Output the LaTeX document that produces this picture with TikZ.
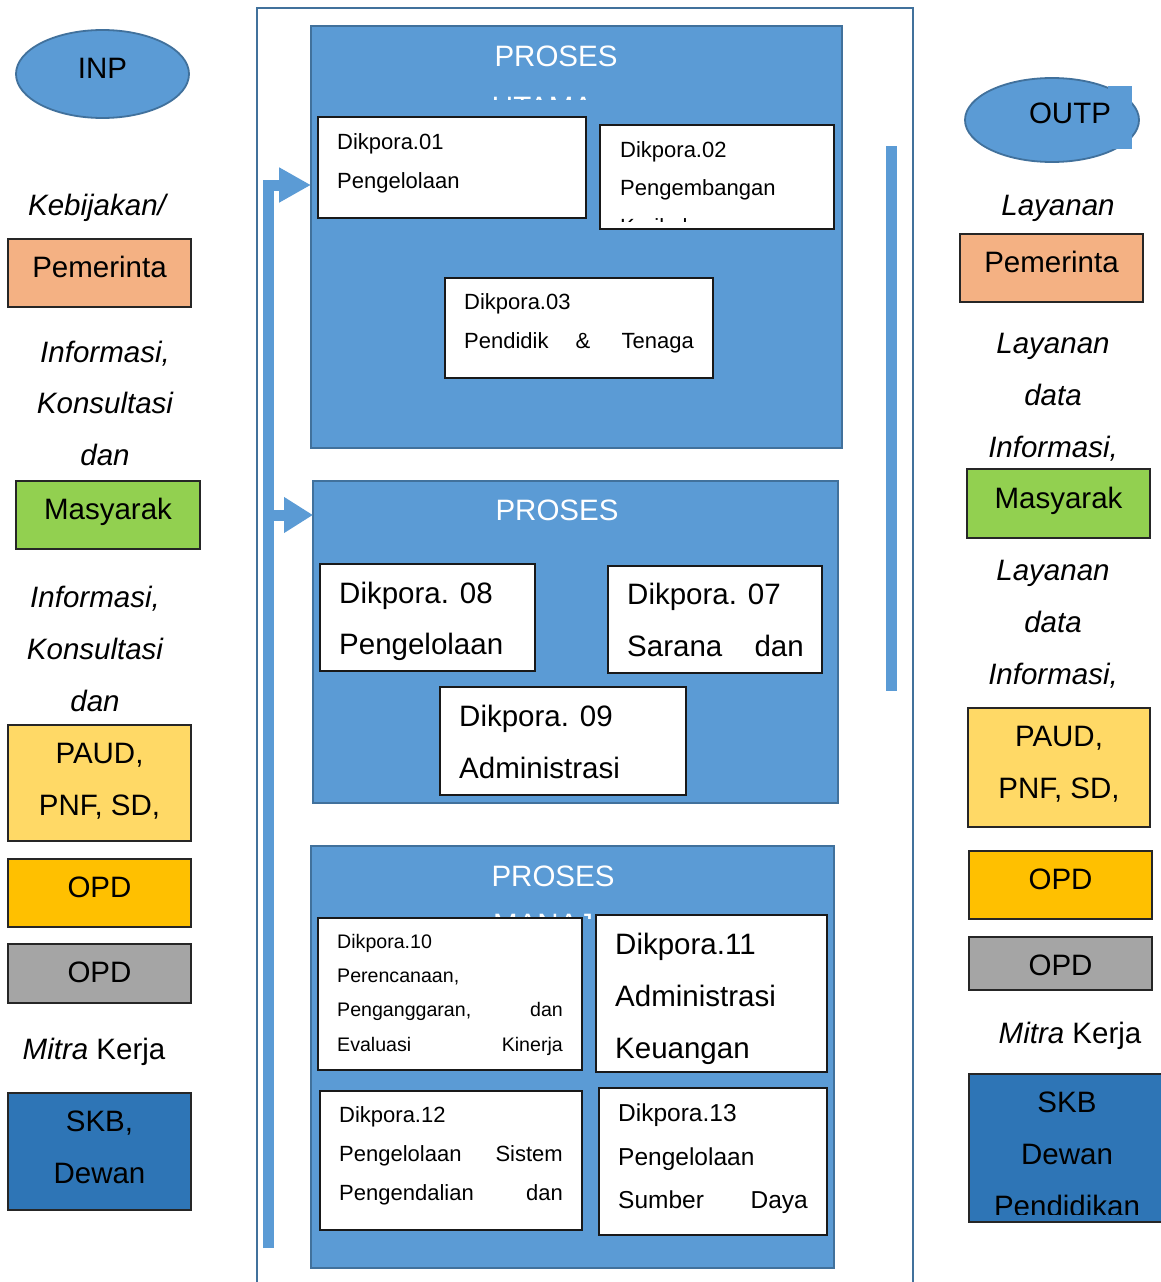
\documentclass[tikz,border=0pt]{standalone}
\usepackage{fontspec}
\setmainfont{Liberation Sans}
\usetikzlibrary{arrows.meta,shapes.geometric}
\definecolor{pblue}{HTML}{5B9BD5}
\definecolor{pedge}{HTML}{41719C}
\definecolor{cpem}{HTML}{F4B183}
\definecolor{cmas}{HTML}{92D050}
\definecolor{cpaud}{HTML}{FFD966}
\definecolor{copd}{HTML}{FFC000}
\definecolor{cgray}{HTML}{A5A5A5}
\definecolor{cskb}{HTML}{2E75B6}
\newcommand\fsA{\fontsize{29.5}{35}\selectfont}
\newcommand\fsB{\fontsize{22}{26}\selectfont}
\newcommand\fsC{\fontsize{19.6}{23}\selectfont}
\newcommand\fsD{\fontsize{24.5}{29}\selectfont}
\tikzset{
  bx/.style={draw=black!85, line width=1.3pt, inner sep=0pt, outer sep=0pt, anchor=north west},
  proc/.style={fill=pblue, draw=pedge, line width=2.5pt, inner sep=0pt, outer sep=0pt, anchor=north west},
  wbox/.style={fill=white, draw=black!90, line width=1.3pt, inner sep=0pt, outer sep=0pt, anchor=north west},
  ct/.style={inner sep=0pt, anchor=base, font=\fsA},
  lt/.style={inner sep=0pt, anchor=base west},
  rt/.style={inner sep=0pt, anchor=base east},
  ell/.style={ellipse, fill=pblue, draw=pedge, line width=1.8pt},
  flow/.style={line width=11pt, draw=pblue, line join=miter},
}
\begin{document}
\begin{tikzpicture}[x=1pt,y=-1pt]
\useasboundingbox (0,0) rectangle (1161,1282);
\fill[white] (0,0) rectangle (1161,1282);

% outer frame
\draw[pedge, line width=2pt] (257,1290) -- (257,8) -- (913,8) -- (913,1290);

% ===== left column =====
\node[ell, minimum width=173pt, minimum height=88pt] (inp) at (102.5,74) {};
\node[ct] (tinp) at (102.5,78) {INP};
\node[ct, font=\fsA\itshape] (lk1) at (97,215) {Kebijakan/};
\node[bx, fill=cpem, minimum width=183pt, minimum height=68pt] (lpem) at (8,239) {};
\node[ct] (tlpem) at (99.5,277) {Pemerinta};
\node[ct, font=\fsA\itshape] (li1) at (105,362) {Informasi,};
\node[ct, font=\fsA\itshape] (li2) at (105,413) {Konsultasi};
\node[ct, font=\fsA\itshape] (li3) at (105,465) {dan};
\node[bx, fill=cmas, minimum width=184pt, minimum height=68pt] (lmas) at (16,481) {};
\node[ct] (tlmas) at (108,519) {Masyarak};
\node[ct, font=\fsA\itshape] (li4) at (95,607) {Informasi,};
\node[ct, font=\fsA\itshape] (li5) at (95,659) {Konsultasi};
\node[ct, font=\fsA\itshape] (li6) at (95,711) {dan};
\node[bx, fill=cpaud, minimum width=183pt, minimum height=116pt] (lpaud) at (8,725) {};
\node[ct] (tlpaud1) at (99.5,763) {PAUD,};
\node[ct] (tlpaud2) at (99.5,815) {PNF, SD,};
\node[bx, fill=copd, minimum width=183pt, minimum height=68pt] (lopd) at (8,859) {};
\node[ct] (tlopd) at (99.5,897) {OPD};
\node[bx, fill=cgray, minimum width=183pt, minimum height=59pt] (lopdg) at (8,944) {};
\node[ct] (tlopdg) at (99.5,982) {OPD};
\node[ct] (lmitra) at (94,1059) {\textit{Mitra} Kerja};
\node[bx, fill=cskb, minimum width=183pt, minimum height=117pt] (lskb) at (8,1093) {};
\node[ct] (tlskb1) at (99.5,1131) {SKB,};
\node[ct] (tlskb2) at (99.5,1183) {Dewan};

% ===== right column =====
\node[ell, minimum width=174pt, minimum height=84pt] (outp) at (1052,120) {};
\fill[pblue] (1108,86) rectangle (1132,149);
\node[ct] (toutp) at (1070,123) {OUTP};
\node[ct, font=\fsA\itshape] (rl1) at (1058,215) {Layanan};
\node[bx, fill=cpem, minimum width=183pt, minimum height=68pt] (rpem) at (960,234) {};
\node[ct] (trpem) at (1051.5,272.5) {Pemerinta};
\node[ct, font=\fsA\itshape] (rl2) at (1053,353.5) {Layanan};
\node[ct, font=\fsA\itshape] (rl3) at (1053,405.5) {data};
\node[ct, font=\fsA\itshape] (rl4) at (1053,457.5) {Informasi,};
\node[bx, fill=cmas, minimum width=183pt, minimum height=69pt] (rmas) at (967,469) {};
\node[ct] (trmas) at (1058.5,508.5) {Masyarak};
\node[ct, font=\fsA\itshape] (rl5) at (1053,580.5) {Layanan};
\node[ct, font=\fsA\itshape] (rl6) at (1053,632.5) {data};
\node[ct, font=\fsA\itshape] (rl7) at (1053,684.5) {Informasi,};
\node[bx, fill=cpaud, minimum width=182pt, minimum height=119pt] (rpaud) at (968,708) {};
\node[ct] (trpaud1) at (1059,746.5) {PAUD,};
\node[ct] (trpaud2) at (1059,798.5) {PNF, SD,};
\node[bx, fill=copd, minimum width=183pt, minimum height=68pt] (ropd) at (969,851) {};
\node[ct] (tropd) at (1060.5,889.5) {OPD};
\node[bx, fill=cgray, minimum width=183pt, minimum height=53pt] (ropdg) at (969,937) {};
\node[ct] (tropdg) at (1060.5,975.5) {OPD};
\node[ct] (rmitra) at (1070,1043.5) {\textit{Mitra} Kerja};
\node[bx, fill=cskb, minimum width=210pt, minimum height=148pt] (rskb) at (969,1074) {};
\node[ct] (trskb1) at (1067,1112) {SKB};
\node[ct] (trskb2) at (1067,1164) {Dewan};
\begin{scope}
\clip (969,1074) rectangle (1161,1214);
\node[ct] (trskb3) at (1067,1216) {Pendidikan};
\end{scope}

% ===== process 1 =====
\node[proc, minimum width=531pt, minimum height=422pt] (p1) at (311,26) {};
\node[ct, text=white] (tp1) at (556,66.5) {PROSES};
\begin{scope}
\clip (311,26) rectangle (842,99);
\node[ct, text=white] (tp1b) at (542.5,117) {UTAMA};
\end{scope}
\node[wbox, minimum width=268pt, minimum height=101pt] (d01) at (318,117) {};
\node[lt, font=\fsB] (t01a) at (337,149) {Dikpora.01};
\node[lt, font=\fsB] (t01b) at (337,188) {Pengelolaan};
\node[wbox, minimum width=234pt, minimum height=104pt] (d02) at (600,125) {};
\node[lt, font=\fsB] (t02a) at (620,157) {Dikpora.02};
\node[lt, font=\fsB] (t02b) at (620,195) {Pengembangan};
\begin{scope}
\clip (600,125) rectangle (834,221);
\node[lt, font=\fsB] (t02c) at (620,234) {Kurikulum};
\end{scope}
\node[wbox, minimum width=268pt, minimum height=100pt] (d03) at (445,278) {};
\node[lt, font=\fsB] (t03a) at (464,309) {Dikpora.03};
\node[lt, font=\fsB] (t03b) at (464,348) {Pendidik};
\node[inner sep=0pt, anchor=base, font=\fsB] (t03c) at (583,348) {\&};
\node[rt, font=\fsB] (t03d) at (694,348) {Tenaga};

% ===== process 2 =====
\node[proc, minimum width=525pt, minimum height=322pt] (p2) at (313,481) {};
\node[ct, text=white] (tp2) at (557,520.5) {PROSES};
\node[wbox, minimum width=215pt, minimum height=107pt] (d08) at (320,564) {};
\node[lt, font=\fsA] (t08a) at (339,603) {Dikpora. 08};
\node[lt, font=\fsA] (t08b) at (339,654) {Pengelolaan};
\node[wbox, minimum width=214pt, minimum height=107pt] (d07) at (608,566) {};
\node[lt, font=\fsA] (t07a) at (627,604) {Dikpora. 07};
\node[lt, font=\fsA] (t07b) at (627,656) {Sarana};
\node[rt, font=\fsA] (t07c) at (804,656) {dan};
\node[wbox, minimum width=246pt, minimum height=108pt] (d09) at (440,687) {};
\node[lt, font=\fsA] (t09a) at (459,726) {Dikpora. 09};
\node[lt, font=\fsA] (t09b) at (459,778) {Administrasi};

% ===== process 3 =====
\node[proc, minimum width=523pt, minimum height=422pt] (p3) at (311,846) {};
\node[ct, text=white] (tp3) at (553,886.5) {PROSES};
\begin{scope}
\clip (311,846) rectangle (593,918);
\node[lt, font=\fsA, text=white] (tp3b) at (493,934) {MANAJ};
\end{scope}
\node[wbox, minimum width=264pt, minimum height=152pt] (d10) at (318,918) {};
\node[lt, font=\fsC] (t10a) at (337,948) {Dikpora.10};
\node[lt, font=\fsC] (t10b) at (337,982) {Perencanaan,};
\node[lt, font=\fsC] (t10c) at (337,1016) {Penganggaran,};
\node[rt, font=\fsC] (t10d) at (563,1016) {dan};
\node[lt, font=\fsC] (t10e) at (337,1051) {Evaluasi};
\node[rt, font=\fsC] (t10f) at (563,1051) {Kinerja};
\node[wbox, minimum width=231pt, minimum height=157pt] (d11) at (596,915) {};
\node[lt, font=\fsA] (t11a) at (615,954) {Dikpora.11};
\node[lt, font=\fsA] (t11b) at (615,1006) {Administrasi};
\node[lt, font=\fsA] (t11c) at (615,1058) {Keuangan};
\node[wbox, minimum width=262pt, minimum height=139pt] (d12) at (320,1091) {};
\node[lt, font=\fsB] (t12a) at (339,1122) {Dikpora.12};
\node[lt, font=\fsB] (t12b) at (339,1161) {Pengelolaan};
\node[rt, font=\fsB] (t12c) at (563,1161) {Sistem};
\node[lt, font=\fsB] (t12d) at (339,1200) {Pengendalian};
\node[rt, font=\fsB] (t12e) at (563,1200) {dan};
\node[wbox, minimum width=228pt, minimum height=147pt] (d13) at (599,1088) {};
\node[lt, font=\fsD] (t13a) at (618,1121) {Dikpora.13};
\node[lt, font=\fsD] (t13b) at (618,1165) {Pengelolaan};
\node[lt, font=\fsD] (t13c) at (618,1208) {Sumber};
\node[rt, font=\fsD] (t13d) at (808,1208) {Daya};

% ===== flow arrows =====
\coordinate (fbot) at (268.5,1248);
\coordinate (fcorner) at (268.5,185);
\coordinate (a1) at (p1.west |- fcorner);
\coordinate (s2) at (268.5,515);
\coordinate (a2) at (313,515);
\draw[flow, -{Triangle[length=32pt,width=33pt]}] (fbot) -- (fcorner) -- (a1);
\draw[flow, -{Triangle[length=29pt,width=34pt]}] (s2) -- (a2);
\coordinate (rtop) at (891.5,146);
\coordinate (rbot) at (891.5,691);
\draw[flow] (rtop) -- (rbot);
\end{tikzpicture}
\end{document}
